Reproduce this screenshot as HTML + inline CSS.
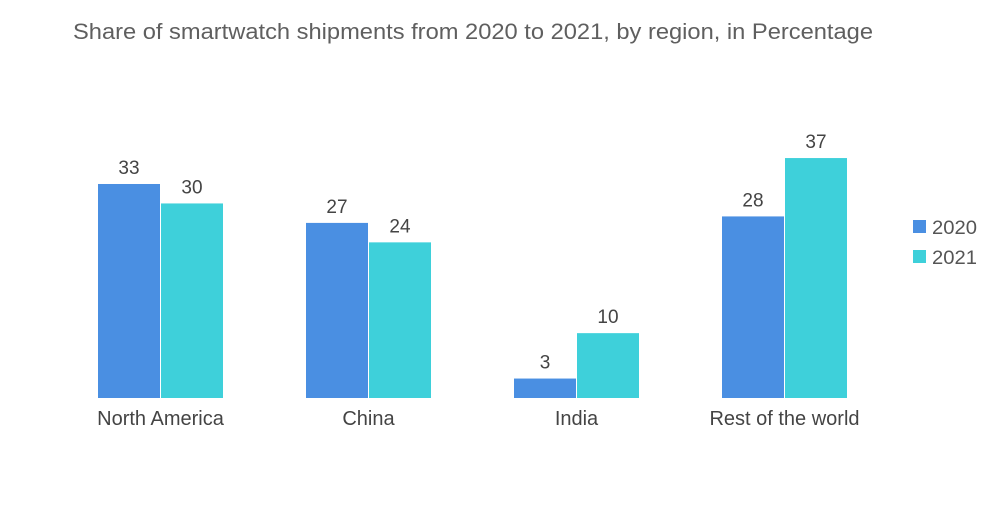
<!DOCTYPE html>
<html><head><meta charset="utf-8"><style>
body{margin:0;background:#fff;width:1000px;height:504px;overflow:hidden;font-family:"Liberation Sans",sans-serif}
</style></head><body>
<svg width="1000" height="504" xmlns="http://www.w3.org/2000/svg">
<text x="73" y="39" font-size="22" textLength="800" lengthAdjust="spacingAndGlyphs" fill="#5f5f5f" font-family="Liberation Sans, sans-serif">Share of smartwatch shipments from 2020 to 2021, by region, in Percentage</text>
<g id="bars"></g>
<g>
<rect x="913" y="220" width="13" height="13" fill="#4a8fe2"/>
<text x="932" y="234" font-size="19" textLength="45" lengthAdjust="spacingAndGlyphs" fill="#555">2020</text>
<rect x="913" y="250" width="13" height="13" fill="#3ed0da"/>
<text x="932" y="264" font-size="19" textLength="45" lengthAdjust="spacingAndGlyphs" fill="#555">2021</text>
</g>
</svg>
<script>
const categories=["North America","China","India","Rest of the world"];
const values2020=[33,27,3,28];
const values2021=[30,24,10,37];
const seriesColors=["#4a8fe2","#3ed0da"];
const base=398, scale=6.485, x0=98, groupStep=208, bw=62;
const y=v=>base-v*scale;
const g=document.getElementById('bars');
const ns="http://www.w3.org/2000/svg";
function mk(t,a){const e=document.createElementNS(ns,t);for(const k in a)e.setAttribute(k,a[k]);return e;}
categories.forEach((c,i)=>{
  [values2020,values2021].forEach((s,j)=>{
    const x=x0+i*groupStep+j*(bw+1);
    const r=mk('rect',{x:x,y:y(s[i]),width:bw,height:s[i]*scale,fill:seriesColors[j]});
    
    
    g.appendChild(r);
    const t=mk('text',{x:x+bw/2,y:y(s[i])-10,'text-anchor':'middle','font-size':19,fill:'#444'});
    t.textContent=s[i];
    
    
    g.appendChild(t);
  });
  const l=mk('text',{x:x0+i*groupStep+bw+0.5,y:425,'text-anchor':'middle','font-size':20,fill:'#444'});
  l.textContent=c;
  
  
  g.appendChild(l);
});
</script>
</body></html>
